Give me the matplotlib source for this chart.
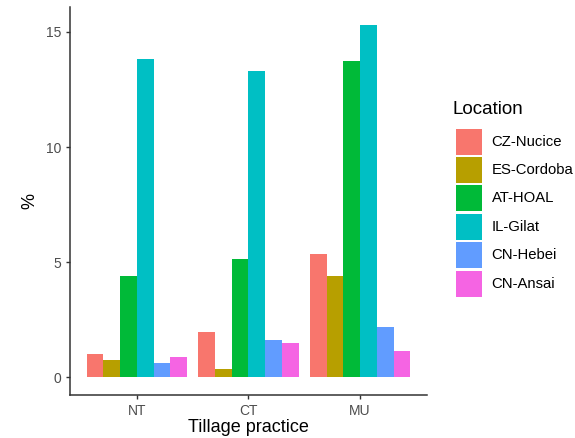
import matplotlib.pyplot as plt
from matplotlib.patches import Rectangle
import numpy as np

plt.rcParams['font.family'] = ['Liberation Sans', 'DejaVu Sans']

# tillage practices on the x axis, one bar per location
practices = ["NT", "CT", "MU"]
locations = ["CZ-Nucice", "ES-Cordoba", "AT-HOAL", "IL-Gilat", "CN-Hebei", "CN-Ansai"]
colors = ["#F8766D", "#B79F00", "#00BA38", "#00BFC4", "#619CFF", "#F564E3"]

cz_nucice = [1.03, 1.96, 5.35]
es_cordoba = [0.74, 0.35, 4.40]
at_hoal = [4.38, 5.15, 13.74]
il_gilat = [13.82, 13.31, 15.32]
cn_hebei = [0.62, 1.61, 2.18]
cn_ansai = [0.87, 1.49, 1.13]
series = [cz_nucice, es_cordoba, at_hoal, il_gilat, cn_hebei, cn_ansai]

W, H = 575, 438
fig = plt.figure(figsize=(W / 100, H / 100), dpi=100)
ax = fig.add_axes([0.1217, 0.0982, 0.6209, 0.886])

x = np.arange(1, len(practices) + 1)
bw = 0.9 / len(series)
for i, (vals, c) in enumerate(zip(series, colors)):
    ax.bar(x - 0.45 + bw * (i + 0.5), vals, width=bw, color=c, linewidth=0)

top = max(max(s) for s in series)
pad = top * 0.05
ax.set_ylim(-pad, top + pad)
ax.set_xlim(0.4, 3.6)
ax.set_xticks(x)
ax.set_xticklabels(practices)
ax.set_yticks([0, 5, 10, 15])

for side in ["top", "right"]:
    ax.spines[side].set_visible(False)
for side in ["left", "bottom"]:
    ax.spines[side].set_color("#333333")
    ax.spines[side].set_linewidth(1.1)
ax.tick_params(axis="both", colors="#333333", labelcolor="#4d4d4d",
               labelsize=10, length=3, width=1.0)

ax.set_xlabel("Tillage practice", fontsize=13, labelpad=1)
ax.set_ylabel("%", fontsize=13, labelpad=5)

# legend drawn by hand: title, then stacked square keys with labels
def px(xp, yp):
    return xp / W, 1 - yp / H

fig.text(*px(453, 110), "Location", fontsize=13.5, ha="left", va="center")
key_x, key_top, key_size, pitch = 456, 128.5, 26, 28.4
for i, (name, c) in enumerate(zip(locations, colors)):
    y0 = key_top + i * pitch
    fx, fy = px(key_x, y0 + key_size)
    fig.add_artist(Rectangle((fx, fy), key_size / W, key_size / H,
                             facecolor=c, edgecolor="none",
                             transform=fig.transFigure))
    fig.text(*px(491.5, y0 + key_size / 2), name, fontsize=10.7,
             ha="left", va="center")

fig.savefig("out.png", dpi=100)
